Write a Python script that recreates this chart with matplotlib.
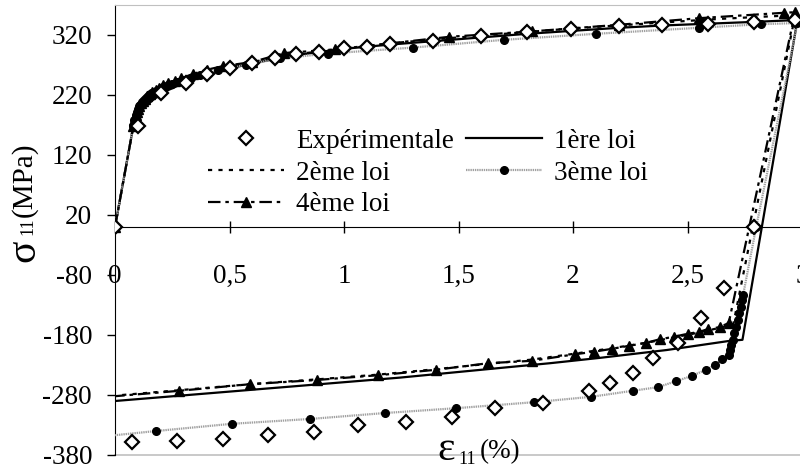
import matplotlib
matplotlib.use("Agg")
import matplotlib.pyplot as plt
import numpy as np

plt.rcParams['font.family'] = ['Liberation Serif', 'DejaVu Serif']
plt.rcParams['axes.unicode_minus'] = False
plt.rcParams['lines.scale_dashes'] = False

# ---------------- data (strain %, stress MPa) ----------------
exp_strain = [0, 0.10, 0.20, 0.31, 0.40, 0.50, 0.60, 0.70, 0.79, 0.89, 1.00, 1.10, 1.20,
              1.39, 1.60, 1.80, 1.99, 2.20, 2.39, 2.59, 2.79, 2.97,
              2.79, 2.66, 2.56, 2.46, 2.35, 2.26, 2.16, 2.07, 1.87, 1.66, 1.47, 1.27,
              1.06, 0.87, 0.67, 0.47, 0.27, 0.075]
exp_stress = [0, 168, 223, 240, 255, 265, 273, 282, 288, 292, 298, 300, 305,
              310, 318, 325, 330, 335, 337, 339, 341, 345,
              0, -102, -152, -193, -218, -243, -260, -273, -293, -302, -316, -325,
              -330, -342, -347, -353, -357, -358]

loi1_strain = [0, 0.08, 0.10, 0.13, 0.17, 0.22, 0.30, 0.40, 0.50, 0.60, 0.70, 0.80, 0.90,
               1.0, 1.2, 1.4, 1.6, 1.8, 2.0, 2.2, 2.4, 2.6, 2.8, 2.98,
               2.74, 2.68, 2.41, 2.12, 1.90, 1.68, 1.245, 0]
loi1_stress = [0, 168, 185, 200, 213, 226, 240, 254, 264, 273, 280, 287, 292,
               297, 304, 310, 316, 322, 327, 332, 336, 339, 342, 345,
               -188, -190, -205, -218, -227, -235, -251, -290]

loi2_strain = [0, 0.08, 0.10, 0.13, 0.17, 0.22, 0.30, 0.40, 0.50, 0.60, 0.75, 0.90, 1.0,
               1.2, 1.4, 1.6, 1.8, 2.0, 2.2, 2.4, 2.6, 2.8, 2.97,
               2.70, 2.64, 2.55, 2.44, 2.32, 2.17, 2.01, 1.82, 1.63, 1.40, 1.15, 0.88,
               0.59, 0.28, 0]
loi2_stress = [0, 168, 196, 212, 224, 234, 246, 258, 267, 275, 286, 293, 297,
               306, 313, 319, 325, 331, 336, 341, 346, 350, 353,
               -162, -168, -176, -184, -193, -202, -211, -221, -228, -237, -246, -254,
               -262, -272, -281]

loi3_strain = [0, 0.080, 0.085, 0.090, 0.095, 0.100, 0.105, 0.110, 0.118, 0.126, 0.135,
               0.145, 0.155, 0.167, 0.180, 0.195, 0.21, 0.23, 0.25, 0.27, 0.30, 0.33,
               0.37, 0.45, 0.57, 0.72, 0.93, 1.30, 1.70, 2.10, 2.55, 2.82, 2.98,
               2.80, 2.743, 2.74, 2.733, 2.725, 2.72, 2.71, 2.705, 2.70, 2.69, 2.685,
               2.68, 2.65, 2.62, 2.58, 2.52, 2.45, 2.37, 2.26, 2.08, 1.83, 1.49, 1.18,
               0.85, 0.51, 0.18, 0]
loi3_stress = [0, 168, 178, 186, 192, 197, 201, 204, 208, 211, 215,
               218, 221, 224, 227, 230, 233, 236, 239, 242, 245, 249,
               253, 261, 270, 281, 289, 299, 312, 322, 332, 338, 340,
               0, -113, -122, -133, -143, -155, -167, -177, -188, -197, -205,
               -213, -220, -230, -238, -248, -257, -267, -273, -283, -292, -302, -310,
               -320, -328, -340, -347]

loi4_strain = [0, 0.080, 0.085, 0.090, 0.095, 0.100, 0.106, 0.113, 0.121, 0.130, 0.140,
               0.151, 0.163, 0.177, 0.192, 0.21, 0.23, 0.26, 0.29, 0.34, 0.40, 0.47,
               0.60, 0.74, 0.96, 1.46, 1.82, 2.20, 2.55, 2.92, 2.97,
               2.68, 2.64, 2.59, 2.55, 2.50, 2.44, 2.38, 2.32, 2.245, 2.17, 2.09, 2.01,
               1.82, 1.63, 1.40, 1.15, 0.88, 0.59, 0.28, 0]
loi4_stress = [0, 168, 178, 186, 192, 197, 202, 206, 210, 214, 218,
               221, 225, 228, 232, 236, 240, 244, 248, 255, 262, 268,
               275, 290, 296, 317, 326, 337, 348, 357, 358,
               -160, -167, -170, -175, -178, -183, -187, -193, -198, -203, -208, -212,
               -223, -227, -238, -247, -255, -262, -273, -282]

labels = ["Expérimentale", "1ère loi", "2ème loi", "3ème loi", "4ème loi"]
xtick_vals = [0, 0.5, 1, 1.5, 2, 2.5, 3]
xtick_labels = ["0", "0,5", "1", "1,5", "2", "2,5", "3"]
ytick_vals = [-380, -280, -180, -80, 20, 120, 220, 320]
ytick_labels = ["-380", "-280", "-180", "-80", "20", "120", "220", "320"]

# ---------------- figure ----------------
W, H = 800, 472
fig = plt.figure(figsize=(W / 100, H / 100), dpi=100)
ax = fig.add_axes([115 / W, 17 / H, 687 / W, 450 / H])
ax.set_xlim(0, 3)
ax.set_ylim(-380, 370)

FS = 19.5

l1, = ax.plot(loi1_strain, loi1_stress, color='black', lw=1.6, zorder=3)
l2, = ax.plot(loi2_strain, loi2_stress, color='black', lw=1.6,
              dashes=(3, 4.5), zorder=3)
l3, = ax.plot(loi3_strain, loi3_stress, color='#a0a0a0', lw=1.6,
              dashes=(1, 0.6), marker='o', ms=5.5, mfc='black', mec='black',
              markevery=list(range(len(loi3_strain) - 1)), zorder=4)
l4, = ax.plot(loi4_strain, loi4_stress, color='black', lw=1.6,
              dashes=(9, 3.5, 2.5, 3.5), marker='^', ms=6.5, mfc='black',
              mec='black', markevery=list(range(len(loi4_strain) - 1)), zorder=4)
le, = ax.plot(exp_strain, exp_stress, ls='none', marker='D', ms=7.6,
              mfc='white', mec='black', mew=1.6, zorder=5)

# spines / frame
ax.spines['bottom'].set_position(('data', 0))
ax.spines['bottom'].set_color('black')
ax.spines['left'].set_color('black')
ax.spines['top'].set_color('#c0c0c0')
ax.spines['right'].set_visible(False)
ax.axhline(-380, color='#c0c0c0', lw=1.2, clip_on=False, zorder=1)

ax.set_xticks(xtick_vals)
ax.set_xticklabels(xtick_labels, fontsize=FS)
ax.set_yticks(ytick_vals)
ax.set_yticklabels(ytick_labels, fontsize=FS)
ax.tick_params(axis='x', direction='inout', length=9, width=1, pad=22)
ax.tick_params(axis='y', direction='out', length=5.5, width=1, pad=11)

# axis labels (composed)
fig.text(24 / W, 1 - 251 / H, "σ", fontsize=30, rotation=90, ha='center', va='center')
fig.text(28 / W, 1 - 226 / H, "11", fontsize=13, rotation=90, ha='center', va='center')
fig.text(24 / W, 1 - 180 / H, "(MPa)", fontsize=21, rotation=90, ha='center', va='center')

fig.text(446 / W, 1 - 450 / H, "ε", fontsize=30, ha='center', va='center')
fig.text(467 / W, 1 - 459 / H, "11", fontsize=13, ha='center', va='center')
fig.text(500 / W, 1 - 452 / H, "(%)", fontsize=FS, ha='center', va='center')

handles = [le, l2, l4, l1, l3]
hl = [labels[0], labels[2], labels[4], labels[1], labels[3]]
leg = ax.legend(handles, hl, ncol=2, frameon=False, fontsize=FS,
                loc='center', bbox_to_anchor=(428 / W, 1 - 173 / H),
                bbox_transform=fig.transFigure, handlelength=2.8,
                handletextpad=0.45, columnspacing=0.45, labelspacing=0.25,
                borderpad=0, numpoints=1)

fig.savefig("out.png", dpi=100)
